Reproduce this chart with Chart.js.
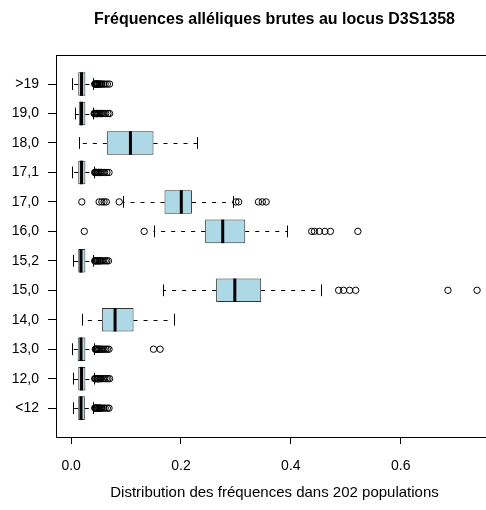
<!DOCTYPE html>
<html>
<head>
  <meta charset="utf-8" />
  <title>D3S1358</title>
  <script src="https://cdn.jsdelivr.net/npm/chart.js"></script>
  <style>
    html, body { margin: 0; padding: 0; background: #fff; overflow: hidden; }
    #wrap { width: 486px; height: 510px; overflow: hidden; }
  </style>
</head>
<body>
  <div id="wrap"><canvas id="chart" width="500" height="510"></canvas></div>
  <script>
    // groups from bottom to top (R horizontal boxplot order)
    const alleles = ['<12', '12,0', '13,0', '14,0', '15,0', '15,2', '16,0', '17,0', '17,1', '18,0', '19,0', '>19'];
    const whiskerLow = [0.004, 0.003, 0.002, 0.0195, 0.168, 0.003, 0.150, 0.094, 0.002, 0.014, 0.007, 0.002];
    const q1 = [0.013, 0.013, 0.012, 0.056, 0.264, 0.013, 0.244, 0.170, 0.013, 0.065, 0.014, 0.013];
    const median = [0.018, 0.019, 0.018, 0.080, 0.298, 0.018, 0.276, 0.2006, 0.019, 0.108, 0.019, 0.019];
    const q3 = [0.025, 0.026, 0.026, 0.1137, 0.346, 0.026, 0.317, 0.220, 0.026, 0.150, 0.026, 0.026];
    const whiskerHigh = [0.040, 0.042, 0.042, 0.1866, 0.454, 0.040, 0.393, 0.295, 0.041, 0.229, 0.040, 0.040];
    const outliers = [
      [0.043, 0.044, 0.045, 0.046, 0.047, 0.048, 0.05, 0.051, 0.052, 0.054, 0.056, 0.059, 0.062, 0.066, 0.069],
      [0.043, 0.044, 0.045, 0.047, 0.048, 0.049, 0.05, 0.052, 0.053, 0.055, 0.058, 0.061, 0.064, 0.067, 0.07],
      [0.044, 0.045, 0.046, 0.047, 0.048, 0.05, 0.051, 0.053, 0.055, 0.057, 0.06, 0.063, 0.066, 0.069, 0.150, 0.162],
      [],
      [0.487, 0.496, 0.507, 0.518, 0.686, 0.739],
      [0.043, 0.044, 0.045, 0.046, 0.048, 0.049, 0.051, 0.052, 0.054, 0.056, 0.059, 0.062, 0.065, 0.068],
      [0.024, 0.133, 0.438, 0.443, 0.452, 0.462, 0.472, 0.522],
      [0.0195, 0.051, 0.056, 0.060, 0.064, 0.0875, 0.300, 0.305, 0.341, 0.348, 0.355],
      [0.043, 0.044, 0.045, 0.046, 0.047, 0.049, 0.05, 0.052, 0.053, 0.055, 0.058, 0.061, 0.065, 0.069],
      [],
      [0.042, 0.043, 0.044, 0.046, 0.047, 0.048, 0.05, 0.051, 0.053, 0.055, 0.057, 0.06, 0.063, 0.067, 0.07],
      [0.043, 0.044, 0.045, 0.046, 0.047, 0.048, 0.049, 0.051, 0.052, 0.054, 0.056, 0.059, 0.062, 0.066, 0.07]
    ];
    const xTicks = [0, 0.2, 0.4, 0.6];

    const FONT = "'Liberation Sans', Arial, sans-serif";
    const BOXW = 0.8;

    const boxData = alleles.map((_, i) => ({ x: [q1[i], q3[i]], y: i + 1 }));
    const outlierData = [];
    outliers.forEach((arr, i) => arr.forEach(v => outlierData.push({ x: v, y: i + 1 })));

    // whiskers, staples, medians and plot frame
    const boxplotExtras = {
      id: 'boxplotExtras',
      afterDatasetsDraw(chart) {
        const { ctx, scales: { x, y } } = chart;
        ctx.save();
        ctx.strokeStyle = '#000';
        alleles.forEach((_, i) => {
          const yc = y.getPixelForValue(i + 1);
          const half = Math.abs(y.getPixelForValue(i + 1 + BOXW / 4) - yc);
          const halfBox = Math.abs(y.getPixelForValue(i + 1 + BOXW / 2) - yc);
          const ly = Math.round(yc) + 0.5;
          // dashed whiskers, drawn from the box outwards
          ctx.lineWidth = 1;
          ctx.setLineDash([4, 6]);
          ctx.beginPath();
          ctx.moveTo(x.getPixelForValue(q1[i]), ly);
          ctx.lineTo(x.getPixelForValue(whiskerLow[i]), ly);
          ctx.moveTo(x.getPixelForValue(q3[i]), ly);
          ctx.lineTo(x.getPixelForValue(whiskerHigh[i]), ly);
          ctx.stroke();
          // staples
          ctx.setLineDash([]);
          ctx.beginPath();
          [whiskerLow[i], whiskerHigh[i]].forEach(v => {
            const px = Math.round(x.getPixelForValue(v)) + 0.5;
            ctx.moveTo(px, yc - half);
            ctx.lineTo(px, yc + half);
          });
          ctx.stroke();
          // median
          ctx.lineWidth = 3;
          ctx.beginPath();
          const mx = x.getPixelForValue(median[i]);
          ctx.moveTo(mx, yc - halfBox);
          ctx.lineTo(mx, yc + halfBox);
          ctx.stroke();
        });
        ctx.restore();
      },
      afterDraw(chart) {
        const { ctx, chartArea: a } = chart;
        ctx.save();
        ctx.strokeStyle = '#000';
        ctx.lineWidth = 1;
        ctx.strokeRect(Math.round(a.left) + 0.5, Math.round(a.top) + 0.5, Math.round(a.right - a.left), Math.round(a.bottom - a.top));
        ctx.restore();
      }
    };

    new Chart(document.getElementById('chart').getContext('2d'), {
      type: 'bar',
      data: {
        datasets: [
          {
            type: 'bar',
            indexAxis: 'y',
            data: boxData,
            backgroundColor: '#ADD8E6',
            borderColor: '#333',
            borderWidth: 1,
            borderSkipped: false,
            categoryPercentage: 1,
            barPercentage: BOXW,
            order: 2
          },
          {
            type: 'scatter',
            data: outlierData,
            pointStyle: 'circle',
            pointRadius: 3.2,
            pointBorderWidth: 1,
            pointBorderColor: '#000',
            pointBackgroundColor: 'rgba(0,0,0,0)',
            order: 1
          }
        ]
      },
      options: {
        responsive: false,
        animation: false,
        layout: { padding: { left: 0, right: 7, top: 0, bottom: 0 } },
        plugins: {
          legend: { display: false },
          tooltip: { enabled: false },
          title: {
            display: true,
            fullSize: false,
            text: 'Fréquences alléliques brutes au locus D3S1358',
            color: '#000',
            font: { family: FONT, size: 16, weight: 'bold' },
            padding: { top: 10, bottom: 26 }
          }
        },
        scales: {
          x: {
            type: 'linear',
            position: 'bottom',
            offset: false,
            min: -0.0275,
            max: 0.768,
            afterBuildTicks: s => { s.ticks = xTicks.map(v => ({ value: v })); },
            afterFit: s => { s.height = 73; },
            ticks: {
              color: '#000',
              font: { family: FONT, size: 14 },
              padding: 14,
              maxRotation: 0,
              callback: v => v.toFixed(1)
            },
            grid: { display: true, offset: false, drawOnChartArea: false, drawTicks: true, tickLength: 7, color: '#000' },
            border: { display: true, color: '#000' },
            title: {
              display: true,
              text: 'Distribution des fréquences dans 202 populations',
              color: '#000',
              font: { family: FONT, size: 15 },
              padding: { top: 4, bottom: 8 }
            }
          },
          y: {
            type: 'linear',
            offset: false,
            min: 0.02,
            max: 12.98,
            afterBuildTicks: s => { s.ticks = alleles.map((_, i) => ({ value: i + 1 })); },
            afterFit: s => { s.width = 56; },
            ticks: {
              color: '#000',
              font: { family: FONT, size: 14 },
              padding: 9,
              callback: v => alleles[v - 1]
            },
            grid: { display: true, offset: false, drawOnChartArea: false, drawTicks: true, tickLength: 8, color: '#000' },
            border: { display: true, color: '#000' }
          }
        }
      },
      plugins: [boxplotExtras]
    });
  </script>
</body>
</html>
